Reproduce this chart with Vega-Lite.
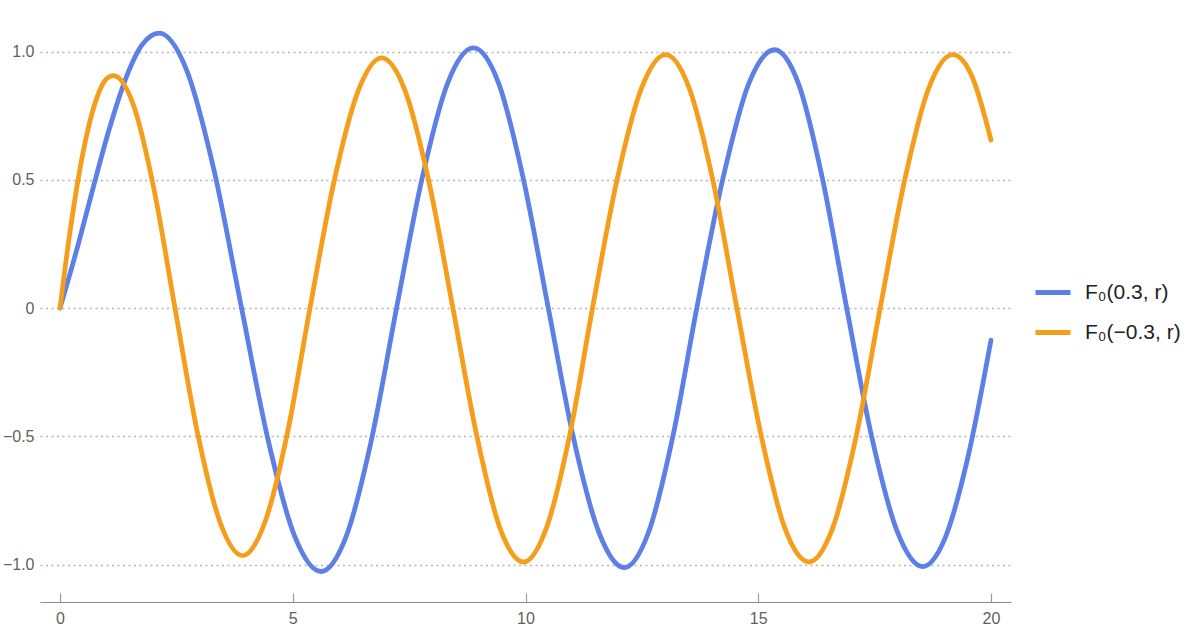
{
  "$schema": "https://vega.github.io/schema/vega-lite/v6.json",
  "width": 971,
  "height": 582,
  "autosize": {"type": "none"},
  "padding": {"left": 40, "top": 20, "right": 189, "bottom": 28},
  "background": "white",
  "config": {"view": {"stroke": null}},
  "data": {"values": [
    {"x": 0, "y": 0, "s": "F₀(0.3, r)"},
    {"x": 0.35, "y": 0.221, "s": "F₀(0.3, r)"},
    {"x": 0.7, "y": 0.461, "s": "F₀(0.3, r)"},
    {"x": 1.05, "y": 0.693, "s": "F₀(0.3, r)"},
    {"x": 1.4, "y": 0.889, "s": "F₀(0.3, r)"},
    {"x": 1.75, "y": 1.023, "s": "F₀(0.3, r)"},
    {"x": 2.13, "y": 1.072, "s": "F₀(0.3, r)"},
    {"x": 2.72, "y": 0.928, "s": "F₀(0.3, r)"},
    {"x": 3.31, "y": 0.536, "s": "F₀(0.3, r)"},
    {"x": 3.9, "y": 0, "s": "F₀(0.3, r)"},
    {"x": 4.47, "y": -0.514, "s": "F₀(0.3, r)"},
    {"x": 5.04, "y": -0.889, "s": "F₀(0.3, r)"},
    {"x": 5.61, "y": -1.027, "s": "F₀(0.3, r)"},
    {"x": 6.15, "y": -0.889, "s": "F₀(0.3, r)"},
    {"x": 6.69, "y": -0.514, "s": "F₀(0.3, r)"},
    {"x": 7.23, "y": 0, "s": "F₀(0.3, r)"},
    {"x": 7.78, "y": 0.507, "s": "F₀(0.3, r)"},
    {"x": 8.33, "y": 0.878, "s": "F₀(0.3, r)"},
    {"x": 8.88, "y": 1.014, "s": "F₀(0.3, r)"},
    {"x": 9.42, "y": 0.878, "s": "F₀(0.3, r)"},
    {"x": 9.95, "y": 0.507, "s": "F₀(0.3, r)"},
    {"x": 10.49, "y": 0, "s": "F₀(0.3, r)"},
    {"x": 11.03, "y": -0.506, "s": "F₀(0.3, r)"},
    {"x": 11.58, "y": -0.876, "s": "F₀(0.3, r)"},
    {"x": 12.12, "y": -1.012, "s": "F₀(0.3, r)"},
    {"x": 12.64, "y": -0.876, "s": "F₀(0.3, r)"},
    {"x": 13.16, "y": -0.506, "s": "F₀(0.3, r)"},
    {"x": 13.68, "y": 0, "s": "F₀(0.3, r)"},
    {"x": 14.24, "y": 0.504, "s": "F₀(0.3, r)"},
    {"x": 14.79, "y": 0.872, "s": "F₀(0.3, r)"},
    {"x": 15.35, "y": 1.007, "s": "F₀(0.3, r)"},
    {"x": 15.87, "y": 0.872, "s": "F₀(0.3, r)"},
    {"x": 16.38, "y": 0.504, "s": "F₀(0.3, r)"},
    {"x": 16.9, "y": 0, "s": "F₀(0.3, r)"},
    {"x": 17.44, "y": -0.504, "s": "F₀(0.3, r)"},
    {"x": 17.99, "y": -0.873, "s": "F₀(0.3, r)"},
    {"x": 18.53, "y": -1.008, "s": "F₀(0.3, r)"},
    {"x": 19.0, "y": -0.903, "s": "F₀(0.3, r)"},
    {"x": 19.5, "y": -0.585, "s": "F₀(0.3, r)"},
    {"x": 20, "y": -0.125, "s": "F₀(0.3, r)"},
    {"x": 0, "y": 0, "s": "F₀(−0.3, r)"},
    {"x": 0.2, "y": 0.279, "s": "F₀(−0.3, r)"},
    {"x": 0.4, "y": 0.513, "s": "F₀(−0.3, r)"},
    {"x": 0.6, "y": 0.696, "s": "F₀(−0.3, r)"},
    {"x": 0.8, "y": 0.824, "s": "F₀(−0.3, r)"},
    {"x": 1.0, "y": 0.894, "s": "F₀(−0.3, r)"},
    {"x": 1.15, "y": 0.906, "s": "F₀(−0.3, r)"},
    {"x": 1.59, "y": 0.785, "s": "F₀(−0.3, r)"},
    {"x": 2.03, "y": 0.453, "s": "F₀(−0.3, r)"},
    {"x": 2.47, "y": 0, "s": "F₀(−0.3, r)"},
    {"x": 2.95, "y": -0.483, "s": "F₀(−0.3, r)"},
    {"x": 3.44, "y": -0.836, "s": "F₀(−0.3, r)"},
    {"x": 3.92, "y": -0.965, "s": "F₀(−0.3, r)"},
    {"x": 4.4, "y": -0.836, "s": "F₀(−0.3, r)"},
    {"x": 4.89, "y": -0.483, "s": "F₀(−0.3, r)"},
    {"x": 5.37, "y": 0, "s": "F₀(−0.3, r)"},
    {"x": 5.88, "y": 0.488, "s": "F₀(−0.3, r)"},
    {"x": 6.4, "y": 0.844, "s": "F₀(−0.3, r)"},
    {"x": 6.91, "y": 0.975, "s": "F₀(−0.3, r)"},
    {"x": 7.42, "y": 0.844, "s": "F₀(−0.3, r)"},
    {"x": 7.93, "y": 0.488, "s": "F₀(−0.3, r)"},
    {"x": 8.44, "y": 0, "s": "F₀(−0.3, r)"},
    {"x": 8.95, "y": -0.495, "s": "F₀(−0.3, r)"},
    {"x": 9.45, "y": -0.857, "s": "F₀(−0.3, r)"},
    {"x": 9.96, "y": -0.99, "s": "F₀(−0.3, r)"},
    {"x": 10.45, "y": -0.857, "s": "F₀(−0.3, r)"},
    {"x": 10.95, "y": -0.495, "s": "F₀(−0.3, r)"},
    {"x": 11.44, "y": 0, "s": "F₀(−0.3, r)"},
    {"x": 11.96, "y": 0.494, "s": "F₀(−0.3, r)"},
    {"x": 12.49, "y": 0.856, "s": "F₀(−0.3, r)"},
    {"x": 13.01, "y": 0.988, "s": "F₀(−0.3, r)"},
    {"x": 13.52, "y": 0.856, "s": "F₀(−0.3, r)"},
    {"x": 14.03, "y": 0.494, "s": "F₀(−0.3, r)"},
    {"x": 14.54, "y": 0, "s": "F₀(−0.3, r)"},
    {"x": 15.06, "y": -0.495, "s": "F₀(−0.3, r)"},
    {"x": 15.57, "y": -0.857, "s": "F₀(−0.3, r)"},
    {"x": 16.09, "y": -0.99, "s": "F₀(−0.3, r)"},
    {"x": 16.6, "y": -0.857, "s": "F₀(−0.3, r)"},
    {"x": 17.11, "y": -0.495, "s": "F₀(−0.3, r)"},
    {"x": 17.62, "y": 0, "s": "F₀(−0.3, r)"},
    {"x": 18.14, "y": 0.494, "s": "F₀(−0.3, r)"},
    {"x": 18.66, "y": 0.856, "s": "F₀(−0.3, r)"},
    {"x": 19.18, "y": 0.988, "s": "F₀(−0.3, r)"},
    {"x": 19.6, "y": 0.9, "s": "F₀(−0.3, r)"},
    {"x": 20, "y": 0.655, "s": "F₀(−0.3, r)"}
  ]},
  "mark": {"type": "line", "interpolate": "monotone", "strokeWidth": 4.8, "strokeCap": "round", "strokeJoin": "round"},
  "encoding": {
    "x": {
      "field": "x", "type": "quantitative",
      "scale": {"domain": [-0.43, 20.43], "nice": false, "zero": false},
      "axis": {
        "title": null, "values": [0, 5, 10, 15, 20], "grid": false,
        "domainColor": "#8a8a8a", "domainWidth": 1.2,
        "tickColor": "#9a9a9a", "tickWidth": 1.2, "tickSize": -9,
        "labelPadding": 17, "labelFont": "Liberation Sans", "labelFontSize": 16, "labelColor": "#5f5f5f"
      }
    },
    "y": {
      "field": "y", "type": "quantitative",
      "scale": {"domain": [-1.146, 1.123], "nice": false, "zero": false},
      "axis": {
        "title": null, "values": [-1, -0.5, 0, 0.5, 1],
        "labelExpr": "datum.value == 0 ? '0' : format(datum.value, '.1f')",
        "domain": false, "ticks": false, "labelPadding": 6,
        "grid": true, "gridColor": "#b4b4b4", "gridDash": [2, 3.5], "gridWidth": 1.3,
        "labelFont": "Liberation Sans", "labelFontSize": 16, "labelColor": "#5f5f5f"
      }
    },
    "color": {
      "field": "s", "type": "nominal",
      "scale": {"domain": ["F₀(0.3, r)", "F₀(−0.3, r)"], "range": ["#5d80e6", "#f59e1b"]},
      "legend": {
        "title": null, "orient": "none", "legendX": 993, "legendY": 252.5,
        "symbolType": "stroke", "symbolSize": 1225, "symbolStrokeWidth": 5,
        "rowPadding": 10, "labelOffset": 12, "padding": 0,
        "labelFont": "Liberation Sans", "labelFontSize": 21, "labelColor": "#222222"
      }
    }
  }
}
